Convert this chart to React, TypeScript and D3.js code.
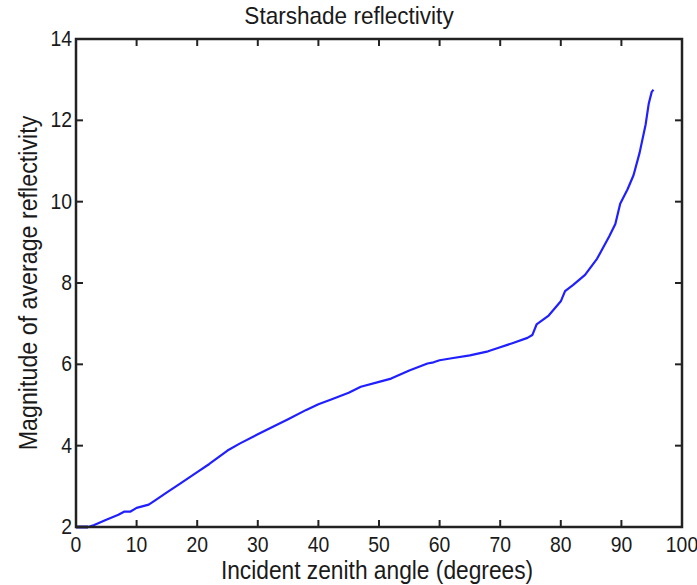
import React from "react";
import * as d3 from "d3";

const angles = [0, 2, 3, 5, 7, 8, 9, 10, 12, 13, 15, 17, 20, 22, 25, 27, 30, 33, 35, 38, 40, 42, 45, 47, 50, 52, 55, 58, 59, 60, 62, 65, 68, 70, 72, 74.5, 75.3, 76, 78, 80, 80.7, 82, 84, 86, 88, 89, 89.8, 91, 92, 93, 94, 94.5, 95, 95.3];
const reflectivity = [2.0, 2.0, 2.05, 2.18, 2.3, 2.38, 2.38, 2.47, 2.55, 2.65, 2.85, 3.05, 3.35, 3.55, 3.88, 4.05, 4.28, 4.5, 4.65, 4.88, 5.02, 5.13, 5.3, 5.45, 5.57, 5.65, 5.85, 6.02, 6.05, 6.1, 6.15, 6.22, 6.32, 6.42, 6.52, 6.65, 6.72, 6.98, 7.2, 7.55, 7.8, 7.95, 8.2, 8.6, 9.15, 9.45, 9.95, 10.3, 10.65, 11.2, 11.9, 12.4, 12.7, 12.75];
const xTicks = [0, 10, 20, 30, 40, 50, 60, 70, 80, 90, 100];
const yTicks = [2, 4, 6, 8, 10, 12, 14];

const W = 697, H = 585;
const L = 76, R = 682, T = 39, B = 527;
const FONT = "'Liberation Sans', Arial, sans-serif";

function T2(props: { x: number; y: number; sx: number; size: number; anchor: string; rot?: number; children: React.ReactNode }) {
  const { x, y, sx, size, anchor, rot, children } = props;
  return (
    <text
      transform={`translate(${x},${y})${rot ? ` rotate(${rot})` : ""} scale(${sx},1)`}
      textAnchor={anchor}
      fontFamily={FONT}
      fontSize={size}
      fill="#1a1a1a"
    >
      {children}
    </text>
  );
}

export default function App() {
  const x = d3.scaleLinear().domain([0, 100]).range([L, R]);
  const y = d3.scaleLinear().domain([2, 14]).range([B, T]);
  const pts = angles.map((a, i) => [a, reflectivity[i]] as [number, number]);
  const line = d3.line<[number, number]>().x(d => x(d[0])).y(d => y(d[1]));
  const tl = 7;
  return (
    <svg width={W} height={H} style={{ position: "absolute", left: 0, top: 0, background: "#fff" }}>
      <rect x={0} y={0} width={W} height={H} fill="#fff" />
      <T2 x={349} y={24} sx={0.94} size={24} anchor="middle">Starshade reflectivity</T2>
      <path d={line(pts) || ""} fill="none" stroke="#1f1fff" strokeWidth={2.2} strokeLinejoin="round" />
      <path d={line(pts.slice(0, 2)) || ""} fill="none" stroke="#0000b0" strokeWidth={3} />
      {xTicks.map(t => (
        <g key={"x" + t}>
          <line x1={x(t)} x2={x(t)} y1={B} y2={B - tl} stroke="#222" strokeWidth={2} />
          <line x1={x(t)} x2={x(t)} y1={T} y2={T + tl} stroke="#222" strokeWidth={2} />
          <T2 x={x(t)} y={552} sx={0.88} size={22} anchor="middle">{t}</T2>
        </g>
      ))}
      {yTicks.map(t => (
        <g key={"y" + t}>
          <line x1={L} x2={L + tl} y1={y(t)} y2={y(t)} stroke="#222" strokeWidth={2} />
          <line x1={R} x2={R - tl} y1={y(t)} y2={y(t)} stroke="#222" strokeWidth={2} />
          <T2 x={L - 4} y={y(t) + 7} sx={0.88} size={22} anchor="end">{t}</T2>
        </g>
      ))}
      <rect x={L} y={T} width={R - L} height={B - T} fill="none" stroke="#222" strokeWidth={2.5} />
      <T2 x={377} y={579} sx={0.91} size={25} anchor="middle">Incident zenith angle (degrees)</T2>
      <T2 x={37} y={283} sx={0.93} size={25} anchor="middle" rot={-90}>Magnitude of average reflectivity</T2>
    </svg>
  );
}
